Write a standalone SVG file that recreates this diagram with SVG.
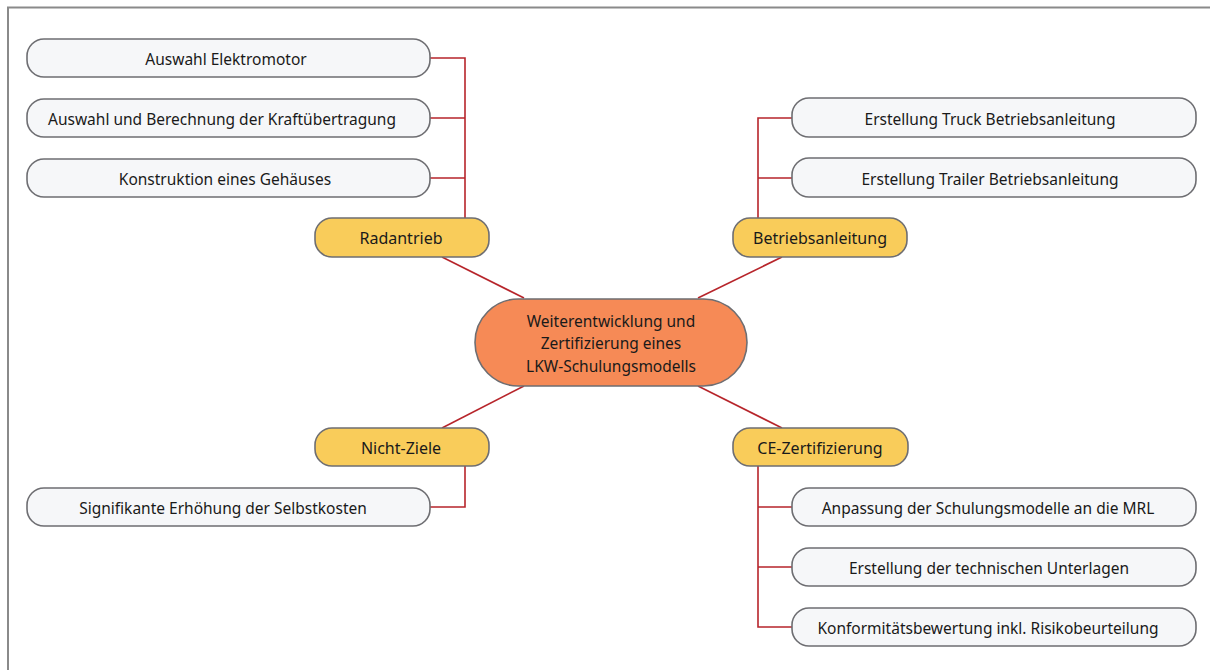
<svg xmlns="http://www.w3.org/2000/svg" width="1210" height="670" viewBox="0 0 1210 670">
<style>
.frame{fill:none;stroke:#8a8a8a;stroke-width:2}
.leaf rect{fill:#f6f7f9;stroke:#6e6e72;stroke-width:1.6}
.cat rect{fill:#f9cc5a;stroke:#6e6e72;stroke-width:1.6}
.root rect{fill:#f68a56;stroke:#6e6e72;stroke-width:1.6}
text{font-family:"Noto Sans","Open Sans","Liberation Sans",sans-serif;font-size:15.5px;fill:#1a1a1a;text-anchor:middle;dominant-baseline:central}
.cat text{font-size:16px}
#connectors path{fill:none;stroke:#b7252b;stroke-width:1.6}
</style>
<rect width="1210" height="670" fill="#ffffff"/>
<path class="frame" d="M8,670 V7.5 H1210"/>
<g id="connectors">
<path d="M430,58 H465 V218 M430,118 H465 M430,178 H465"/>
<path d="M792,118 H758 V218 M792,178 H758"/>
<path d="M465,466 V507 H430"/>
<path d="M758,466 V627 H792 M758,507 H792 M758,567 H792"/>
<path d="M442,257 L524,298"/>
<path d="M782,257 L698,298"/>
<path d="M524,386 L442,428"/>
<path d="M698,386 L782,428"/>
</g>
<g id="root" class="root">
<rect x="475" y="299" width="272" height="87" rx="43.5"/>
<text x="611" y="321">Weiterentwicklung und</text>
<text x="611" y="343">Zertifizierung eines</text>
<text x="611" y="366">LKW-Schulungsmodells</text>
</g>
<g id="radantrieb" class="cat">
<rect x="315" y="218" width="174" height="39" rx="17"/>
<text x="401" y="238">Radantrieb</text>
</g>
<g id="betriebsanleitung" class="cat">
<rect x="733" y="218" width="174" height="39" rx="17"/>
<text x="820" y="238">Betriebsanleitung</text>
</g>
<g id="nichtziele" class="cat">
<rect x="315" y="428" width="174" height="38" rx="17"/>
<text x="401" y="448">Nicht-Ziele</text>
</g>
<g id="ce" class="cat">
<rect x="733" y="428" width="175" height="38" rx="17"/>
<text x="820" y="448">CE-Zertifizierung</text>
</g>
<g id="leaf-elektromotor" class="leaf">
<rect x="27" y="39" width="403" height="38" rx="17"/>
<text x="226" y="59">Auswahl Elektromotor</text>
</g>
<g id="leaf-kraft" class="leaf">
<rect x="27" y="99" width="403" height="38" rx="17"/>
<text x="222" y="119">Auswahl und Berechnung der Kraftübertragung</text>
</g>
<g id="leaf-gehaeuse" class="leaf">
<rect x="27" y="159" width="403" height="38" rx="17"/>
<text x="225" y="179">Konstruktion eines Gehäuses</text>
</g>
<g id="leaf-truck" class="leaf">
<rect x="792" y="98" width="404" height="39" rx="17"/>
<text x="990" y="119">Erstellung Truck Betriebsanleitung</text>
</g>
<g id="leaf-trailer" class="leaf">
<rect x="792" y="158" width="404" height="39" rx="17"/>
<text x="990" y="179">Erstellung Trailer Betriebsanleitung</text>
</g>
<g id="leaf-selbstkosten" class="leaf">
<rect x="27" y="488" width="403" height="38" rx="17"/>
<text x="223" y="508">Signifikante Erhöhung der Selbstkosten</text>
</g>
<g id="leaf-mrl" class="leaf">
<rect x="792" y="488" width="404" height="38" rx="17"/>
<text x="988" y="508">Anpassung der Schulungsmodelle an die MRL</text>
</g>
<g id="leaf-unterlagen" class="leaf">
<rect x="792" y="548" width="404" height="38" rx="17"/>
<text x="989" y="568">Erstellung der technischen Unterlagen</text>
</g>
<g id="leaf-konformitaet" class="leaf">
<rect x="792" y="608" width="404" height="38" rx="17"/>
<text x="988" y="628">Konformitätsbewertung inkl. Risikobeurteilung</text>
</g>
</svg>
